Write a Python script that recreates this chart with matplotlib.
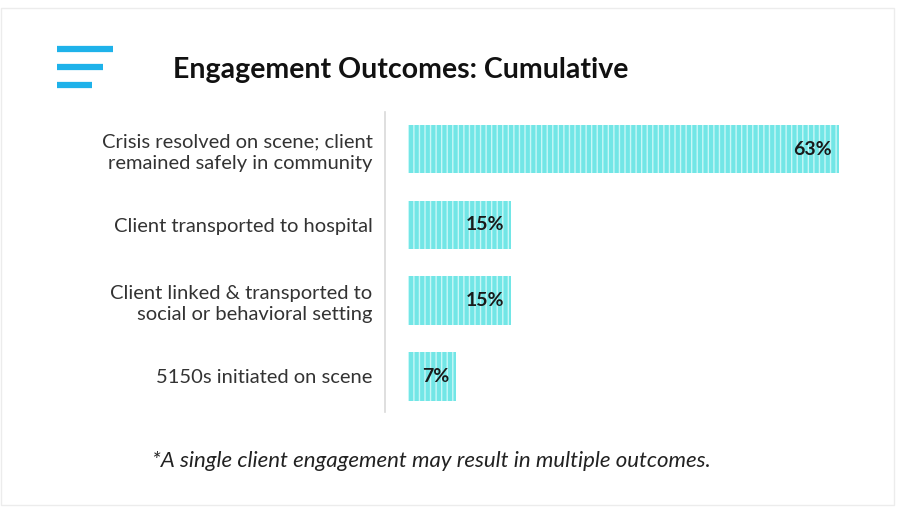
import matplotlib.pyplot as plt
from matplotlib.patches import Rectangle
from matplotlib.lines import Line2D

categories = [
    "Crisis resolved on scene; client\nremained safely in community",
    "Client transported to hospital",
    "Client linked & transported to\nsocial or behavioral setting",
    "5150s initiated on scene",
]
values = [63, 15, 15, 7]
value_labels = ["63%", "15%", "15%", "7%"]

title = "Engagement Outcomes: Cumulative"
footnote = "*A single client engagement may result in multiple outcomes."

W, H = 897, 508
fig = plt.figure(figsize=(W / 100, H / 100), dpi=100)
fig.patch.set_facecolor("white")

# faint frame around the slide
fig.add_artist(Rectangle((0.5 / W, 1 - 505 / H), 893 / W, 497 / H,
                         transform=fig.transFigure, fill=False,
                         edgecolor="#ececec", linewidth=1))

# menu-style icon
for x1, y in [(113, 49), (103, 67), (92, 85)]:
    fig.add_artist(Line2D([57 / W, x1 / W], [1 - y / H, 1 - y / H],
                          transform=fig.transFigure, color="#1eb2ea",
                          linewidth=4.5, solid_capstyle="butt"))

fig.text(173 / W, 1 - 70 / H, title, fontsize=20.5, fontweight="bold",
         family="Lato", color="#111111", va="center", ha="left")

ax_left, ax_right = 385, 862
ax_top, ax_bot = 112, 412
ax = fig.add_axes([ax_left / W, 1 - ax_bot / H, (ax_right - ax_left) / W,
                   (ax_bot - ax_top) / H])

ypos = list(range(len(categories)))
plt.rcParams["hatch.linewidth"] = 1.0
bars = ax.barh(ypos, values, height=0.64, color="#72e6e6",
               edgecolor="#c8f7f7", hatch="|||", linewidth=0, zorder=2)

ax.set_xlim(-3.4, 66.4)
ax.set_ylim(3.47, -0.49)
ax.set_yticks(ypos)
ax.set_yticklabels(categories, fontsize=14.5, family="Lato", color="#333333",
                   linespacing=1.3)
ax.tick_params(axis="y", length=0, pad=9)
ax.set_xticks([])
for s in ["top", "right", "bottom"]:
    ax.spines[s].set_visible(False)
ax.spines["left"].set_color("#d9d9d9")
ax.spines["left"].set_linewidth(1.2)

for y, v, lab in zip(ypos, values, value_labels):
    ax.text(v - 1.0, y, lab, ha="right", va="center", fontsize=14,
            fontweight="bold", family="Lato", color="#1a1a1a", zorder=3)

fig.text(431 / W, 1 - 461 / H, footnote, fontsize=16, style="italic",
         family="Lato", color="#222222", ha="center", va="center")

fig.savefig("out.png", dpi=100, facecolor="white")
